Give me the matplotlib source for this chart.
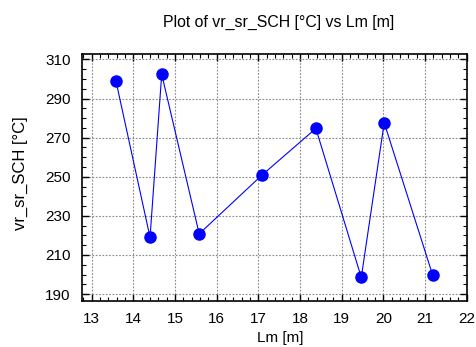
import matplotlib
matplotlib.use("Agg")
import matplotlib.pyplot as plt
from matplotlib.ticker import MultipleLocator

plt.rcParams['font.family'] = ['Liberation Sans', 'DejaVu Sans']

lm = [13.58, 14.40, 14.68, 15.58, 17.08, 18.38, 19.47, 20.02, 21.18]
temp = [299.1, 219.0, 302.4, 220.8, 250.7, 274.7, 198.5, 277.6, 199.9]
x_ticks = [13, 14, 15, 16, 17, 18, 19, 20, 21, 22]
y_ticks = [190, 210, 230, 250, 270, 290, 310]

fig = plt.figure(figsize=(4.77, 3.47), dpi=100)
ax = fig.add_axes([0.1713, 0.1334, 0.9784 - 0.1713, 0.8435 - 0.1334])

ax.plot(lm, temp, color='#0000ff', linewidth=0.8, marker='o', markersize=8,
        markerfacecolor='#0000ff', markeredgecolor='#0000ff', zorder=3)

ax.set_xlim(12.76, 22.0)
ax.set_ylim(186.6, 312.6)
ax.set_xticks(x_ticks)
ax.set_yticks(y_ticks)
ax.xaxis.set_minor_locator(MultipleLocator(0.2))
ax.yaxis.set_minor_locator(MultipleLocator(5))
ax.tick_params(which='both', direction='in', top=True, right=True, labelsize=11, color='black')
ax.tick_params(which='major', length=5, width=1, pad=8)
ax.tick_params(which='minor', length=3, width=0.8)
ax.grid(True, which='major', color='#888888', linestyle=(0, (1.5, 1.5)), linewidth=0.8)
for s in ax.spines.values():
    s.set_linewidth(1.2)

fig.text(279 / 477, 1 - 22 / 347, 'Plot of vr_sr_SCH [°C] vs Lm [m]', fontsize=11.4,
         ha='center', va='center')
ax.set_xlabel('Lm [m]', fontsize=11)
ax.set_ylabel('vr_sr_SCH [°C]', fontsize=12)
ax.xaxis.set_label_coords(0.515, -0.151)
ax.yaxis.set_label_coords(-0.160, 0.517)
ax.xaxis.label.set_va('center')
ax.yaxis.label.set_va('center')

fig.savefig('out.png', dpi=100)
